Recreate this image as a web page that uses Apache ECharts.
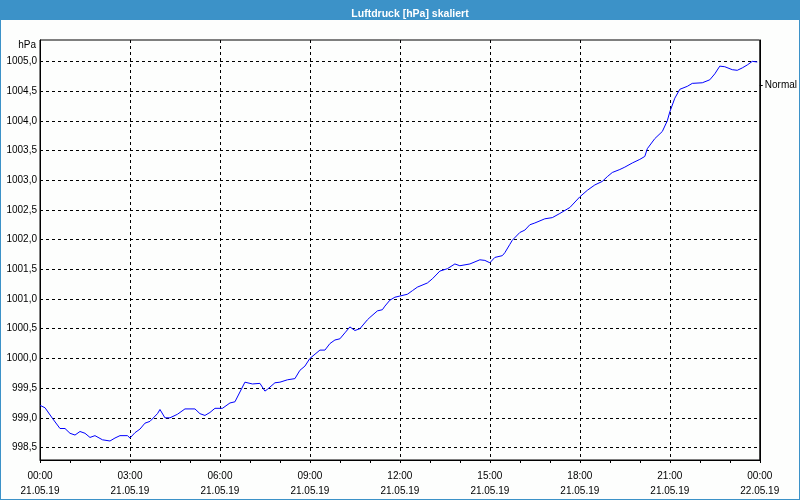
<!DOCTYPE html>
<html>
<head>
<meta charset="utf-8">
<script src="https://cdn.jsdelivr.net/npm/echarts@6/dist/echarts.min.js"></script>
<style>
html,body{margin:0;padding:0;background:#fdfefd;}
#c{width:800px;height:500px;}
</style>
</head>
<body>
<div id="c"></div>
<script>
// minutes since 21.05.19 00:00
var minutes = [0,10,25,40,50,60,70,80,90,100,110,125,140,150,160,175,180,190,200,210,220,235,240,250,260,275,290,310,320,330,340,350,365,380,390,410,425,440,450,455,470,480,495,510,520,530,540,560,570,580,590,600,610,620,630,640,655,660,675,685,690,700,710,720,735,745,755,775,785,800,815,830,840,860,880,890,900,910,925,930,940,945,960,970,980,990,1010,1025,1040,1060,1080,1095,1110,1125,1135,1145,1160,1170,1185,1200,1210,1215,1230,1245,1255,1260,1270,1280,1295,1305,1325,1340,1350,1360,1370,1385,1395,1405,1415,1425,1435];
var pressure = [999.21,999.17,998.99,998.82,998.82,998.74,998.71,998.77,998.74,998.67,998.70,998.63,998.61,998.66,998.70,998.70,998.66,998.75,998.81,998.91,998.94,999.07,999.14,999.00,999.00,999.06,999.15,999.15,999.07,999.04,999.09,999.16,999.16,999.25,999.27,999.60,999.57,999.58,999.45,999.48,999.59,999.60,999.64,999.66,999.80,999.87,1000.00,1000.14,1000.14,1000.25,1000.31,1000.33,1000.43,1000.53,1000.47,1000.50,1000.65,1000.69,1000.80,1000.82,1000.88,1000.98,1001.03,1001.05,1001.08,1001.14,1001.20,1001.27,1001.34,1001.47,1001.51,1001.59,1001.56,1001.59,1001.66,1001.65,1001.61,1001.70,1001.73,1001.78,1001.92,1001.99,1002.12,1002.16,1002.25,1002.28,1002.35,1002.37,1002.44,1002.54,1002.72,1002.83,1002.92,1002.98,1003.06,1003.13,1003.18,1003.22,1003.29,1003.35,1003.40,1003.53,1003.70,1003.82,1004.00,1004.15,1004.38,1004.53,1004.58,1004.63,1004.64,1004.69,1004.79,1004.92,1004.91,1004.86,1004.85,1004.89,1004.94,1005.00,1004.99];
var yTicks = [998.5,999.0,999.5,1000.0,1000.5,1001.0,1001.5,1002.0,1002.5,1003.0,1003.5,1004.0,1004.5,1005.0];
var normalValue = [1004.6];
var titleText = 'Luftdruck [hPa] skaliert';

var data = minutes.map(function(m,i){return [m, pressure[i]];});
var FONT = 'Liberation Sans';
function fmtX(v){
  var h = Math.floor(v/60)%24, mm = v%60;
  var day = v >= 1440 ? '22.05.19' : '21.05.19';
  return (h<10?'0':'')+h+':'+(mm<10?'0':'')+mm+'\n'+day;
}
var dash = {color:'#000', width:1, type:[3,3]};
var chart = echarts.init(document.getElementById('c'), null, {renderer:'canvas'});
chart.setOption({
  backgroundColor:'#fdfefd',
  animation:false,
  graphic:[
    {type:'rect', left:0, top:0, shape:{width:800, height:20}, style:{fill:'#3c92c8'}, z:-1},
    {type:'rect', left:0, top:0, shape:{width:1, height:500}, style:{fill:'#3c92c8'}},
    {type:'rect', left:799, top:0, shape:{width:1, height:500}, style:{fill:'#3c92c8'}},
    {type:'rect', left:0, top:499, shape:{width:800, height:1}, style:{fill:'#3c92c8'}}
  ],
  title:{text:titleText, left:405, top:4, textAlign:'center',
    textStyle:{color:'#fff', fontFamily:FONT, fontSize:10.5, fontWeight:'bold'}},
  grid:{left:40, right:40, top:40, bottom:40, show:true, borderColor:'#000', borderWidth:1, backgroundColor:'transparent'},
  xAxis:{type:'value', min:0, max:1440, interval:180,
    axisLine:{lineStyle:{color:'#000'}},
    axisTick:{show:true, length:3, lineStyle:{color:'#000'}},
    minorTick:{show:true, splitNumber:3, length:3, lineStyle:{color:'#000'}},
    splitLine:{show:true, lineStyle:dash},
    axisLabel:{formatter:fmtX, color:'#000', fontFamily:FONT, fontSize:10, lineHeight:15.5, margin:8, showMinLabel:true, showMaxLabel:true}
  },
  yAxis:[{type:'value', min:998.29, max:1005.36, position:'left',
    name:'hPa', nameLocation:'end', nameGap:-5,
    nameTextStyle:{color:'#000', fontFamily:FONT, fontSize:10, align:'right', verticalAlign:'middle', padding:[0,4,0,0]},
    axisLine:{show:true, lineStyle:{color:'#000'}},
    axisTick:{show:false, customValues:yTicks},
    splitLine:{show:true, lineStyle:dash},
    axisLabel:{customValues:yTicks, color:'#000', fontFamily:FONT, fontSize:10, margin:3,
      formatter:function(v){return v.toFixed(1).replace('.',',');}}
  },{type:'value', min:998.29, max:1005.36, position:'right',
    axisLine:{show:true, lineStyle:{color:'#000'}},
    axisTick:{show:true, length:3, customValues:normalValue, lineStyle:{color:'#000'}},
    splitLine:{show:false},
    axisLabel:{customValues:normalValue, color:'#000', fontFamily:FONT, fontSize:10, margin:5,
      formatter:function(){return 'Normal';}}
  }],
  series:[{type:'line', data:data, showSymbol:false, symbol:'none',
    lineStyle:{color:'#0000ff', width:1}, itemStyle:{color:'#0000ff'}, z:5}]
});
</script>
</body>
</html>
